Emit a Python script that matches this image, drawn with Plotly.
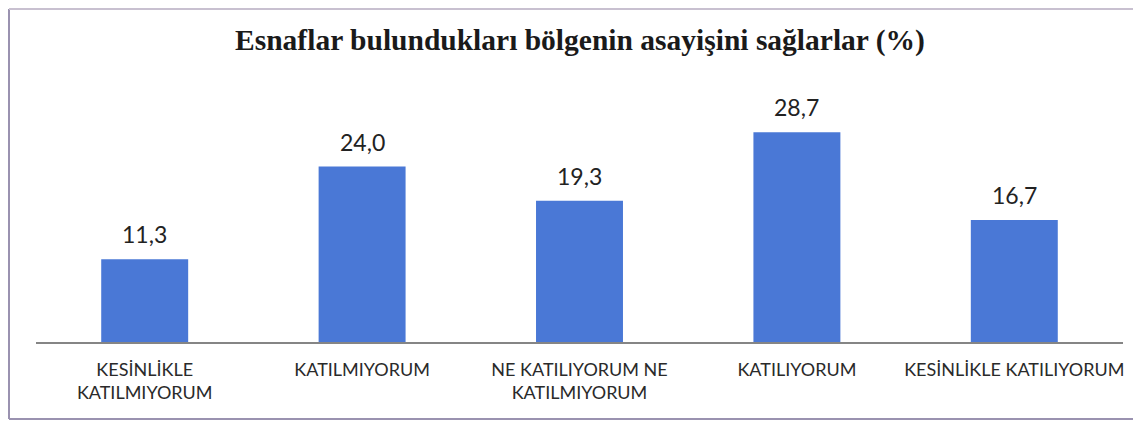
import plotly.graph_objects as go

categories = ["KESİNLİKLE<br>KATILMIYORUM", "KATILMIYORUM", "NE KATILIYORUM NE<br>KATILMIYORUM",
              "KATILIYORUM", "KESİNLİKLE KATILIYORUM"]
values = [11.3, 24.0, 19.3, 28.7, 16.7]
labels = [f"{v:.1f}".replace(".", ",") for v in values]

W, H = 1141, 425
OFF = 8  # page body margin offset
ML, MR, MT, MB = 36 - OFF, 18 + OFF, 108 - OFF, 83 + OFF
pw, ph = W - ML - MR, H - MT - MB

def px(x):
    return (x - OFF - ML) / pw

def py(y):
    return (H - MB - (y - OFF)) / ph

fig = go.Figure(go.Bar(
    x=categories, y=values,
    marker=dict(color="#4a78d6", line=dict(width=0)),
    width=0.4,
))

annotations = [
    dict(x=c, y=v, text=t, xref="x", yref="y", showarrow=False, yanchor="bottom", yshift=9,
         font=dict(family="Lato, Open Sans, sans-serif", size=23, color="#222222"))
    for c, v, t in zip(categories, values, labels)
]

fig.update_layout(
    width=W, height=H,
    margin=dict(l=ML, r=MR, t=MT, b=MB),
    paper_bgcolor="white", plot_bgcolor="white",
    showlegend=False,
    annotations=annotations,
    title=dict(text="<b>Esnaflar bulundukları bölgenin asayişini sağlarlar (%)</b>",
               x=(580 - OFF) / W, xanchor="center", y=1 - (40 - OFF) / H, yanchor="middle",
               font=dict(family="Liberation Serif, Times New Roman, serif", size=29.5, color="#1a1a1a")),
    xaxis=dict(showline=True, linecolor="#858585", linewidth=2, ticks="", ticklen=0,
               automargin=False, ticklabelstandoff=10,
               tickfont=dict(family="Lato, Open Sans, sans-serif", size=18, color="#2a2a2a"),
               showgrid=False),
    yaxis=dict(range=[0, 32], visible=False, showgrid=False, automargin=False),
    shapes=[
        dict(type="line", xref="paper", yref="paper", x0=px(OFF + 1), x1=px(OFF + 1),
             y0=py(OFF + 1), y1=py(419), line=dict(color="#9a92b0", width=2)),
        dict(type="line", xref="paper", yref="paper", x0=px(OFF + 1), x1=px(1141 + OFF),
             y0=py(OFF + 1), y1=py(OFF + 1), line=dict(color="#c8c0d0", width=2)),
        dict(type="line", xref="paper", yref="paper", x0=px(OFF + 1), x1=px(1141 + OFF),
             y0=py(419), y1=py(419), line=dict(color="#9a92b0", width=2)),
    ],
)

fig.write_html("out.html")
